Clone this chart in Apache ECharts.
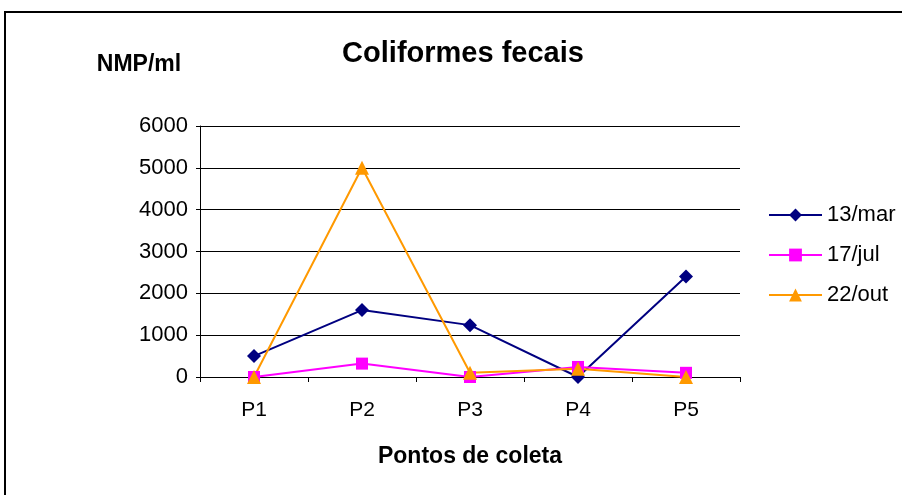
<!DOCTYPE html>
<html>
<head>
<meta charset="utf-8">
<script src="https://cdn.jsdelivr.net/npm/echarts@6/dist/echarts.min.js"></script>
<style>
  html, body { margin: 0; padding: 0; background: #fff; }
  #chart { width: 902px; height: 495px; }
</style>
</head>
<body>
<div id="chart"></div>
<script>
// pontos de coleta
var pontos = ['P1', 'P2', 'P3', 'P4', 'P5'];
// NMP/ml por data
var mar13 = [500, 1600, 1240, 0, 2400];
var jul17 = [0, 320, 0, 240, 100];
var out22 = [0, 5000, 100, 200, 0];
var yTicks = { min: 0, max: 6000, interval: 1000 };

var fonte = 'Liberation Sans, Arial, sans-serif';

var myChart = echarts.init(document.getElementById('chart'));

var option = {
    backgroundColor: '#fff',
    animation: false,
    graphic: [
        {
            type: 'rect',
            shape: { x: 5, y: 12, width: 920, height: 500 },
            style: { fill: 'none', stroke: '#000', lineWidth: 2 },
            silent: true
        }
    ],
    title: [
        {
            text: 'Coliformes fecais',
            left: 458, top: 34, textAlign: 'center',
            textStyle: { fontFamily: fonte, fontSize: 29, fontWeight: 'bold', color: '#000' }
        },
        {
            text: 'NMP/ml',
            left: 134, top: 48, textAlign: 'center',
            textStyle: { fontFamily: fonte, fontSize: 23, fontWeight: 'bold', color: '#000' }
        }
    ],
    legend: {
        orient: 'vertical',
        left: 768, top: 204,
        padding: 0,
        itemWidth: 53, itemHeight: 16,
        itemGap: 18,
        textStyle: { fontFamily: fonte, fontSize: 22, color: '#000' },
        data: ['13/mar', '17/jul', '22/out']
    },
    grid: { left: 200, right: 162, top: 126, bottom: 118, containLabel: false },
    xAxis: {
        type: 'category',
        data: pontos,
        boundaryGap: true,
        name: 'Pontos de coleta',
        nameLocation: 'middle',
        nameGap: 68,
        nameTextStyle: { fontFamily: fonte, fontSize: 23, fontWeight: 'bold', color: '#000' },
        axisLine: { lineStyle: { color: '#000', width: 1 } },
        axisTick: { show: true, length: 5, inside: false, lineStyle: { color: '#000' } },
        axisLabel: { fontFamily: fonte, fontSize: 21, color: '#000', margin: 23 },
        splitLine: { show: false }
    },
    yAxis: {
        type: 'value',
        min: yTicks.min, max: yTicks.max, interval: yTicks.interval,
        axisLine: { show: true, lineStyle: { color: '#000', width: 1 } },
        axisTick: { show: true, length: 4, lineStyle: { color: '#000' } },
        axisLabel: {
            fontFamily: fonte, fontSize: 22, color: '#000', margin: 12,
            formatter: function (v) { return String(v); }
        },
        splitLine: { show: true, lineStyle: { color: '#000', width: 1 } }
    },
    series: [
        {
            name: '13/mar', type: 'line', data: mar13,
            symbol: 'diamond', symbolSize: 14,
            itemStyle: { color: '#000080' },
            lineStyle: { color: '#000080', width: 2 }
        },
        {
            name: '17/jul', type: 'line', data: jul17,
            symbol: 'rect', symbolSize: 12,
            itemStyle: { color: '#ff00ff' },
            lineStyle: { color: '#ff00ff', width: 2 }
        },
        {
            name: '22/out', type: 'line', data: out22,
            symbol: 'triangle', symbolSize: 14,
            itemStyle: { color: '#ff9900' },
            lineStyle: { color: '#ff9900', width: 2 }
        }
    ]
};

myChart.setOption(option);
</script>
</body>
</html>
